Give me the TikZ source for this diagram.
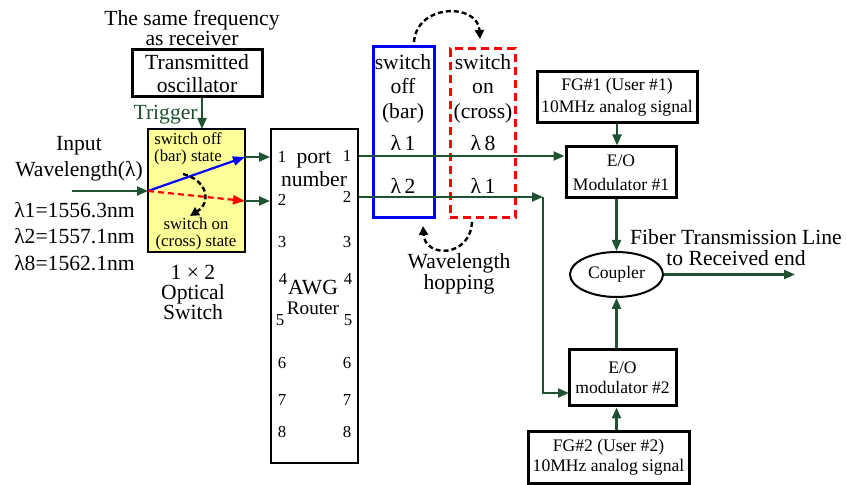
\documentclass[tikz,border=0pt]{standalone}
\usepackage{fontspec}
\setmainfont{Liberation Serif}
\usetikzlibrary{arrows.meta,shapes.geometric}
\newlength{\du}
\setlength{\du}{0.5pt}
\definecolor{linegreen}{RGB}{30,82,48}
\definecolor{switchyellow}{RGB}{255,255,153}
\tikzset{
  txt/.style={inner sep=0pt, align=center, font=\fontsize{10.8}{#1}\selectfont},
  txt/.default=12,
  tinytxt/.style={inner sep=0pt, align=center, font=\fontsize{8.4}{#1}\selectfont},
  tinytxt/.default=9,
  blockbox/.style={draw, line width=1.5pt, inner sep=0pt, align=center},
  flow/.style={draw=linegreen, line width=1.1pt, -{Triangle[length=5.5pt,width=4.5pt]}},
  hop/.style={draw=black, line width=1.2pt, dash pattern=on 2.5pt off 1.5pt, -{Triangle[length=4.5pt,width=4.5pt]}},
}
\begin{document}
\begin{tikzpicture}
\pgftransformxscale{1.000000}
\pgftransformyscale{-1.000000}
\useasboundingbox (0\du,0\du) rectangle (846\du,485\du);
% trigger source
\node[txt=10] (freq) at (192\du,28\du) {The same frequency\\as receiver};
\node[blockbox, minimum width=130\du, minimum height=47\du, font=\fontsize{10.8}{11.5}\selectfont] (osc) at (197\du,73.5\du) {Transmitted\\oscillator};
\node[txt, text=linegreen, anchor=east] (trig) at (198\du,115\du) {Trigger};
\coordinate (trigx) at (202\du,129\du);
\draw[flow] (trigx |- osc.south) -- (trigx);
% 1x2 optical switch
\node[draw, fill=switchyellow, line width=1pt, minimum width=97\du, minimum height=123\du] (sw) at (196.5\du,190.5\du) {};
\node[tinytxt=8.5] (offtxt) at (188\du,149\du) {switch off\\(bar) state};
\node[tinytxt=8.5] (ontxt) at (196\du,234\du) {switch on\\(cross) state};
\coordinate (swin) at (148\du,191\du);
\coordinate (barout) at (245\du,157\du);
\coordinate (crossout) at (245\du,201\du);
\draw[blue, line width=1.1pt, -{Triangle[length=6pt,width=4.5pt]}] (swin) -- (barout);
\draw[red, line width=1.1pt, dash pattern=on 3pt off 2pt, -{Triangle[length=6pt,width=4.5pt]}] (swin) -- (crossout);
\coordinate (turna) at (183\du,174\du);
\coordinate (turnb) at (190\du,216\du);
\draw[hop] (turna) .. controls (207\du,180\du) and (212\du,202\du) .. (turnb);
\coordinate (inp) at (72\du,191\du);
\draw[flow] (inp) -- (swin);
\node[txt=13] (inlbl) at (79\du,159\du) {Input\\Wavelength(λ)};
\node[txt=13.25, align=left] (lams) at (74.5\du,236.5\du) {λ1=1556.3nm\\λ2=1557.1nm\\λ8=1562.1nm};
\node[txt=10] (swname) at (193\du,292\du) {1 × 2\\Optical\\Switch};
% AWG router
\node[draw, line width=1pt, minimum width=87\du, minimum height=334\du] (awg) at (314.5\du,296\du) {};
\node[txt=11.5] (portnum) at (314\du,169\du) {port\\number};
\node[txt] (awgtxt) at (313\du,288\du) {AWG};
\node[inner sep=0pt, font=\fontsize{9.6}{10}\selectfont] (routertxt) at (313\du,308\du) {Router};
\node[tinytxt] (pl1) at (282\du,157\du) {1};
\node[tinytxt] (pl2) at (282\du,200\du) {2};
\node[tinytxt] (pl3) at (282\du,242\du) {3};
\node[tinytxt] (pl4) at (283\du,279\du) {4};
\node[tinytxt] (pl5) at (280\du,320\du) {5};
\node[tinytxt] (pl6) at (282\du,363\du) {6};
\node[tinytxt] (pl7) at (282\du,400\du) {7};
\node[tinytxt] (pl8) at (282\du,432\du) {8};
\node[tinytxt] (pr1) at (347\du,156\du) {1};
\node[tinytxt] (pr2) at (347\du,197\du) {2};
\node[tinytxt] (pr3) at (347\du,242\du) {3};
\node[tinytxt] (pr4) at (348\du,279\du) {4};
\node[tinytxt] (pr5) at (348\du,320\du) {5};
\node[tinytxt] (pr6) at (347\du,363\du) {6};
\node[tinytxt] (pr7) at (347\du,400\du) {7};
\node[tinytxt] (pr8) at (347\du,432\du) {8};
\draw[flow] (barout) -- (awg.west |- barout);
\draw[flow] (crossout) -- (awg.west |- crossout);
% wavelength hopping
\node[draw=blue, line width=1.5pt, minimum width=61\du, minimum height=171\du] (barbox) at (403.5\du,132.5\du) {};
\node[draw=red, line width=1.5pt, dash pattern=on 4pt off 2.5pt, minimum width=65\du, minimum height=169\du] (crossbox) at (482.5\du,133.5\du) {};
\node[txt=12.25] (bartxt) at (403\du,88.5\du) {switch\\off\\(bar)};
\node[txt=12.25] (crosstxt) at (483\du,88.5\du) {switch\\on\\(cross)};
\node[txt] (barl1) at (403\du,143\du) {λ\,1};
\node[txt] (barl2) at (403\du,186\du) {λ\,2};
\node[txt] (crossl8) at (483\du,143\du) {λ\,8};
\node[txt] (crossl1) at (483\du,186\du) {λ\,1};
\coordinate (hopa) at (414\du,42\du);
\coordinate (hopb) at (480\du,39\du);
\draw[hop] (hopa) .. controls (417\du,3\du) and (478\du,3\du) .. (hopb);
\coordinate (hopc) at (472\du,222\du);
\coordinate (hopd) at (423\du,226\du);
\draw[hop] (hopc) .. controls (470\du,258\du) and (425\du,258\du) .. (hopd);
\node[txt=10.5] (hoptxt) at (459\du,273.5\du) {Wavelength\\hopping};
% modulators and coupler
\node[blockbox, minimum width=160\du, minimum height=51\du, font=\fontsize{8.8}{11}\selectfont] (fg1) at (617\du,97.5\du) {FG\#1 (User \#1)\\10MHz analog signal};
\node[blockbox, minimum width=110\du, minimum height=51\du, font=\fontsize{8.8}{12}\selectfont] (mod1) at (621\du,172.5\du) {E/O\\Modulator \#1};
\node[draw, ellipse, line width=1pt, minimum width=93\du, minimum height=45\du, inner sep=0pt, font=\fontsize{8.8}{10}\selectfont] (cpl) at (616.5\du,274.5\du) {Coupler};
\node[blockbox, minimum width=107\du, minimum height=56\du, font=\fontsize{8.8}{9.75}\selectfont] (mod2) at (622.5\du,378\du) {E/O\\modulator \#2};
\node[blockbox, minimum width=161\du, minimum height=52\du, font=\fontsize{8.8}{10}\selectfont] (fg2) at (608.5\du,457.5\du) {FG\#2 (User \#2)\\10MHz analog signal};
\node[txt=10.5] (fiber) at (736\du,247.5\du) {Fiber Transmission Line\\to Received end};
\draw[flow] (awg.east |- pr1) -- (mod1.west |- pr1);
\coordinate (bend) at (543\du,197\du);
\draw[flow] (awg.east |- pr2) -- (bend);
\coordinate (mod2in) at (569\du,393\du);
\draw[flow] (bend) |- (mod2in);
\draw[flow] (fg1.south) -- (fg1.south |- mod1.north);
\draw[flow] (cpl.north |- mod1.south) -- (cpl.north);
\draw[flow] (cpl.south |- mod2.north) -- (cpl.south);
\draw[flow] (cpl.south |- fg2.north) -- (cpl.south |- mod2.south);
\coordinate (rxend) at (795\du,274.5\du);
\draw[flow] (cpl.east) -- (rxend);
\end{tikzpicture}
\end{document}
